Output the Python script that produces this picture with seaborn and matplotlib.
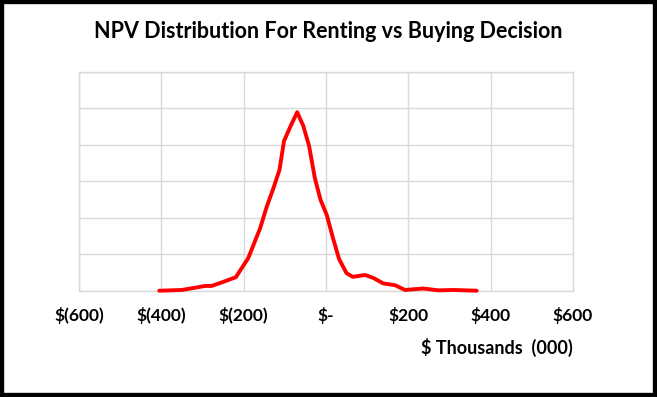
import matplotlib
matplotlib.use("Agg")
import matplotlib.pyplot as plt
import seaborn as sns
import pandas as pd
from matplotlib.patches import Rectangle

# NPV values ($ thousands) and relative frequency (grid units)
npv = [-405, -350, -314, -294, -278, -250, -219, -189, -160, -144, -128, -113,
       -102, -86, -70, -55, -41, -27, -13, 2, 16, 32, 50, 65, 95, 115, 139,
       168, 192, 236, 273, 310, 366]
freq = [0.00, 0.02, 0.09, 0.13, 0.13, 0.24, 0.37, 0.89, 1.71, 2.30, 2.80, 3.31,
        4.10, 4.51, 4.89, 4.51, 3.96, 3.08, 2.48, 2.07, 1.48, 0.86, 0.48, 0.38,
        0.43, 0.35, 0.20, 0.15, 0.02, 0.06, 0.01, 0.02, 0.00]
tick_values = [-600, -400, -200, 0, 200, 400, 600]
tick_labels = ["$(600)", "$(400)", "$(200)", "$-", "$200", "$400", "$600"]

sns.set_style("white")
plt.rcParams['font.family'] = ['Lato', 'DejaVu Sans']
plt.rcParams['text.color'] = 'black'
plt.rcParams['xtick.color'] = 'black'
plt.rcParams['axes.labelcolor'] = 'black'

W, H = 657, 397
fig = plt.figure(figsize=(W / 100, H / 100), dpi=100)
ax = fig.add_axes([79 / W, 1 - 290.7 / H, (573 - 79) / W, (290.7 - 71.7) / H])

df = pd.DataFrame({"npv": npv, "freq": freq})
sns.lineplot(data=df, x="npv", y="freq", ax=ax, color="#ff0000", linewidth=2.8,
             clip_on=False, zorder=5)

grid_c = "#d9d9d9"
ax.set_xlim(-600, 600)
ax.set_ylim(0, 6)
ax.set_xticks(tick_values)
ax.set_xticklabels(tick_labels, fontweight="bold", fontsize=12.5, color="black")
ax.set_yticks(range(0, 7))
ax.set_yticklabels([])
ax.tick_params(axis="both", length=0)
ax.tick_params(axis="x", pad=12)
ax.grid(True, color=grid_c, linewidth=1.0)
for s in ax.spines.values():
    s.set_color(grid_c)
    s.set_linewidth(1.0)
ax.set_ylabel("")
ax.set_xlabel("$ Thousands  (000)", fontweight="bold", fontsize=13,
              loc="right", labelpad=10, color="black")

fig.text(0.5, 1 - 31 / H, "NPV Distribution For Renting vs Buying Decision",
         ha="center", va="center", fontsize=15.5, fontweight="bold",
         color="black")

fig.patches.append(Rectangle((0, 0), 1, 1, transform=fig.transFigure,
                             fill=False, edgecolor="black", linewidth=6,
                             zorder=10))

fig.savefig("out.png", dpi=100)
